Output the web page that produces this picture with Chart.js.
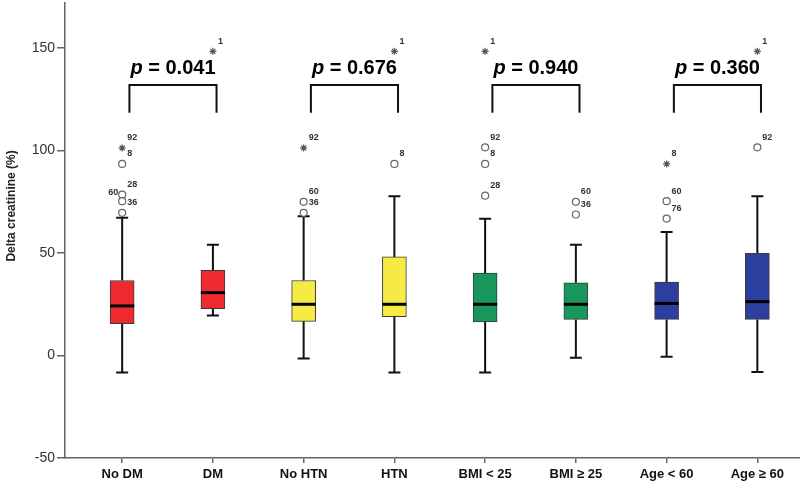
<!DOCTYPE html>
<html>
<head>
<meta charset="utf-8">
<title>Delta creatinine</title>
<script src="https://cdn.jsdelivr.net/npm/chart.js@4.4.1/dist/chart.umd.min.js"></script>
<style>
  body { margin: 0; background: #fff; }
  #wrap { width: 800px; height: 487px; position: relative; }
</style>
</head>
<body>
<div id="wrap"><canvas id="chartroot"></canvas></div>
<script>
// groups on the x axis
const categories = ['No DM', 'DM', 'No HTN', 'HTN', 'BMI < 25', 'BMI \u2265 25', 'Age < 60', 'Age \u2265 60'];
const boxColors = ['#ec2a2f', '#ec2a2f', '#f6eb45', '#f6eb45', '#17985a', '#17985a', '#2c3f9f', '#2c3f9f'];

// box plot values (%)
const whiskerLow  = [-8.3, 19.5, -1.5, -8.3, -8.3, -1.1, -0.6, -8.0];
const q1          = [15.5, 22.8, 16.7, 19.0, 16.4, 17.6, 17.6, 17.6];
const median      = [24.2, 30.7, 25.0, 25.0, 25.0, 25.0, 25.4, 26.3];
const q3          = [36.6, 41.6, 36.6, 48.1, 40.2, 35.5, 35.8, 49.8];
const whiskerHigh = [67.2, 54.1, 68.0, 77.7, 66.7, 54.1, 60.3, 77.7];

// outliers (circles) and extremes (stars) with case numbers
const mildCat   = [0, 0, 0, 0, 2, 2, 3, 4, 4, 4, 5, 5, 6, 6, 7];
const mildValue = [93.5, 78.5, 75.3, 69.6, 75.0, 69.6, 93.5, 101.6, 93.5, 78.0, 75.0, 68.8, 75.3, 66.8, 101.6];
const mildId    = ['8', '28', '60', '36', '60', '36', '8', '92', '8', '28', '60', '36', '60', '76', '92'];
const extremeCat   = [0, 1, 2, 3, 4, 6, 7];
const extremeValue = [101.3, 148.4, 101.3, 148.4, 148.4, 93.5, 148.4];
const extremeId    = ['92', '1', '92', '1', '1', '8', '1'];

// comparisons
const pairStart = [0, 2, 4, 6];
const pValues = ['0.041', '0.676', '0.940', '0.360'];
const bracketLow = 118.5;
const bracketHigh = 132;

const yTicks = [-50, 0, 50, 100, 150];
const FONT = "'Liberation Sans', Arial, sans-serif";

const bracketSets = pairStart.map(s => ({
    type: 'line',
    data: [
        { x: s + 0.08, y: bracketLow },
        { x: s + 0.08, y: bracketHigh },
        { x: s + 1.04, y: bracketHigh },
        { x: s + 1.04, y: bracketLow }
    ],
    borderColor: '#111',
    borderWidth: 2,
    pointRadius: 0,
    fill: false,
    tension: 0
}));

const boxParts = {
    id: 'boxParts',
    beforeDatasetsDraw(chart) {
        const { ctx, scales: { x, y } } = chart;
        ctx.save();
        ctx.strokeStyle = '#111';
        ctx.lineWidth = 2;
        categories.forEach((c, i) => {
            const px = x.getPixelForValue(i);
            const lo = y.getPixelForValue(whiskerLow[i]);
            const hi = y.getPixelForValue(whiskerHigh[i]);
            ctx.beginPath();
            ctx.moveTo(px, lo); ctx.lineTo(px, y.getPixelForValue(q1[i]));
            ctx.moveTo(px, y.getPixelForValue(q3[i])); ctx.lineTo(px, hi);
            ctx.moveTo(px - 6, lo); ctx.lineTo(px + 6, lo);
            ctx.moveTo(px - 6, hi); ctx.lineTo(px + 6, hi);
            ctx.stroke();
        });
        ctx.restore();
    },
    afterDatasetsDraw(chart) {
        const { ctx, scales: { x, y } } = chart;
        ctx.save();
        // medians
        ctx.strokeStyle = '#000';
        ctx.lineWidth = 3;
        categories.forEach((c, i) => {
            const px = x.getPixelForValue(i);
            const py = y.getPixelForValue(median[i]);
            ctx.beginPath();
            ctx.moveTo(px - 12, py); ctx.lineTo(px + 12, py);
            ctx.stroke();
        });

        // case numbers
        ctx.fillStyle = '#333';
        ctx.font = 'bold 9px ' + FONT;
        ctx.textBaseline = 'middle';
        const label = (cat, val, id) => {
            const px = x.getPixelForValue(cat);
            const py = y.getPixelForValue(val);
            if (cat === 0 && id === '60') {
                ctx.textAlign = 'right';
                ctx.fillText(id, px - 4, py - 9);
            } else {
                ctx.textAlign = 'left';
                ctx.fillText(id, px + 5, py - 10);
            }
        };
        mildCat.forEach((c, k) => label(c, mildValue[k], mildId[k]));
        extremeCat.forEach((c, k) => label(c, extremeValue[k], extremeId[k]));

        // p values
        ctx.fillStyle = '#000';
        ctx.textBaseline = 'alphabetic';
        ctx.textAlign = 'left';
        pairStart.forEach((s, k) => {
            const cx = (x.getPixelForValue(s + 0.08) + x.getPixelForValue(s + 1.04)) / 2;
            const base = y.getPixelForValue(bracketHigh) - 11;
            const rest = ' = ' + pValues[k];
            ctx.font = 'italic bold 20px ' + FONT;
            const w1 = ctx.measureText('p').width;
            ctx.font = 'bold 20px ' + FONT;
            const w2 = ctx.measureText(rest).width;
            const left = cx - (w1 + w2) / 2;
            ctx.font = 'italic bold 20px ' + FONT;
            ctx.fillText('p', left, base);
            ctx.font = 'bold 20px ' + FONT;
            ctx.fillText(rest, left + w1, base);
        });

        // y axis title
        ctx.translate(12, y.getPixelForValue(73));
        ctx.rotate(-Math.PI / 2);
        ctx.font = 'bold 12px ' + FONT;
        ctx.textAlign = 'center';
        ctx.textBaseline = 'middle';
        ctx.fillStyle = '#222';
        ctx.fillText('Delta creatinine (%)', 0, 0);
        ctx.restore();
    }
};

const ctx = document.getElementById('chartroot');
new Chart(ctx, {
    data: {
        datasets: [
            {
                type: 'bar',
                data: categories.map((c, i) => ({ x: i, y: [q1[i], q3[i]] })),
                backgroundColor: boxColors,
                borderColor: '#3a3a3a',
                borderWidth: 1,
                borderSkipped: false,
                barThickness: 24
            },
            {
                type: 'scatter',
                data: mildCat.map((c, k) => ({ x: c, y: mildValue[k] })),
                pointStyle: 'circle',
                pointRadius: 3.5,
                backgroundColor: '#fff',
                borderColor: '#666',
                borderWidth: 1.2
            },
            {
                type: 'scatter',
                data: extremeCat.map((c, k) => ({ x: c, y: extremeValue[k] })),
                pointStyle: 'star',
                pointRadius: 3.5,
                backgroundColor: '#555',
                borderColor: '#555',
                borderWidth: 1.2
            },
            ...bracketSets
        ]
    },
    options: {
        responsive: true,
        maintainAspectRatio: false,
        animation: false,
        layout: { autoPadding: false, padding: { top: 3, right: 0, bottom: 0, left: 0 } },
        plugins: { legend: { display: false }, tooltip: { enabled: false } },
        scales: {
            x: {
                type: 'linear',
                offset: false,
                min: -0.63,
                max: 7.47,
                afterBuildTicks: s => { s.ticks = categories.map((c, i) => ({ value: i })); },
                afterFit: s => { s.height = 29; },
                ticks: {
                    callback: v => categories[v],
                    autoSkip: false,
                    maxRotation: 0,
                    padding: 4,
                    color: '#111',
                    font: { family: FONT, size: 13, weight: 'bold' }
                },
                grid: { offset: false, drawOnChartArea: false, tickLength: 5, color: '#5c6670', lineWidth: 1.5 },
                border: { color: '#5c6670', width: 1.5 }
            },
            y: {
                min: -50,
                max: 172,
                afterBuildTicks: s => { s.ticks = yTicks.map(v => ({ value: v })); },
                afterFit: s => { s.width = 65; s.paddingTop = 0; s.paddingBottom = 0; },
                ticks: {
                    padding: 2,
                    color: '#333',
                    font: { family: FONT, size: 14 }
                },
                grid: { drawOnChartArea: false, tickLength: 8, color: '#5c6670', lineWidth: 1.5 },
                border: { color: '#5c6670', width: 1.5 }
            }
        }
    },
    plugins: [boxParts]
});
</script>
</body>
</html>
